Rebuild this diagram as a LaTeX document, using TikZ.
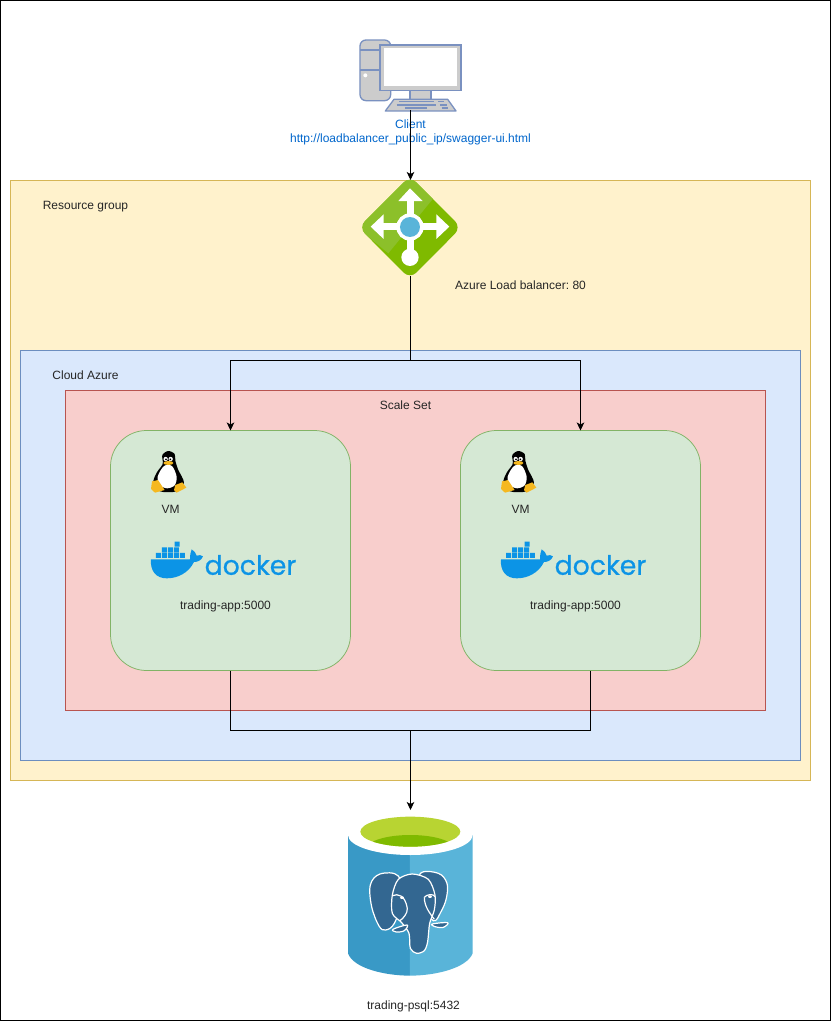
\documentclass[tikz,border=0pt]{standalone}
\usepackage{fontspec}
\setmainfont{Liberation Sans}
\newfontfamily\dockerfont[FakeBold=0.6]{Poppins}
\usetikzlibrary{arrows.meta,calc}
\definecolor{rgfill}{HTML}{FFF2CC}\definecolor{rgline}{HTML}{D6B656}
\definecolor{azfill}{HTML}{DAE8FC}\definecolor{azline}{HTML}{6C8EBF}
\definecolor{ssfill}{HTML}{F8CECC}\definecolor{ssline}{HTML}{B85450}
\definecolor{vmfill}{HTML}{D5E8D4}\definecolor{vmline}{HTML}{82B366}
\definecolor{linkblue}{HTML}{0066CC}
\definecolor{pcline}{HTML}{7A91C0}\definecolor{pcgrey}{HTML}{CCCCCC}
\definecolor{lbgreen}{HTML}{7FBA00}\definecolor{lblight}{HTML}{8CC02A}\definecolor{azblue}{HTML}{59B4D9}
\definecolor{dbdark}{HTML}{3999C6}\definecolor{dbtop}{HTML}{B8D432}\definecolor{pgblue}{HTML}{336791}
\definecolor{dockerblue}{HTML}{0C94E6}\definecolor{tuxorange}{HTML}{F5B81F}
\tikzset{
  x=1pt,y=-1pt,
  region/.style={draw,rectangle,inner sep=0pt,outer sep=0pt,line width=.75pt},
  vmbox/.style={region,fill=vmfill,draw=vmline,minimum width=240pt,minimum height=240pt,rounded corners=36pt},
  lbl/.style={inner sep=0pt,anchor=base,font=\fontsize{12}{14}\selectfont\frenchspacing,text=black!85},
  iconbox/.style={inner sep=0pt,outer sep=0pt,rectangle},
  conn/.style={draw=black,line width=.8pt},
  arrowed/.style={conn,-{Stealth[length=8pt,width=7.5pt,inset=2pt]}},
  zoomed/.style={shift={#1},x=.3333pt,y=-.3333pt},
  vmicons/.pic={
    \begin{scope}[zoomed={(0,0)}]
      % penguin
      \fill[black] plot[smooth cycle] coordinates {(85,33) (67,45) (68,72) (50,98) (40,128) (60,154) (110,154) (132,128) (114,88) (106,62) (104,42)};
      \fill[white] plot[smooth cycle] coordinates {(72,78) (96,78) (110,110) (104,136) (82,145) (60,136) (53,110)};
      \fill[white] (77,57) circle (6.5) (92,57) circle (6.5);
      \fill[black] (78,58) circle (2.8) (91,58) circle (2.8);
      \fill[tuxorange] (85,69) ellipse (15 and 6);
      \fill[tuxorange,line join=round] (33,147) -- (36,124) -- (54,120) -- (74,150) -- (45,158) -- cycle;
      \fill[tuxorange,line join=round] (102,150) -- (106,135) -- (127,127) -- (139,143) -- (110,158) -- cycle;
      % whale
      \fill[dockerblue] (33,358) -- (150,358) .. controls (150,345) and (152,335) .. (155,328)
        .. controls (163,332) and (168,340) .. (170,347) .. controls (177,344) and (184,345) .. (189,349)
        .. controls (184,362) and (172,366) .. (162,366) .. controls (145,400) and (112,415) .. (80,415)
        .. controls (50,415) and (30,395) .. (33,358) -- cycle;
      \fill[dockerblue] \foreach \cx in {48,66,84,102,120} {(\cx,339) rectangle ++(15,15)}
        \foreach \cx in {66,84,102} {(\cx,322) rectangle ++(15,15)}
        (104,305) rectangle ++(15,15);
    \end{scope}
  }
}
\begin{document}
\begin{tikzpicture}
\useasboundingbox (0,0) rectangle (831,1021);
\fill[white] (0,0) rectangle (831,1021);
\node[region,draw=black,fill=white,minimum width=830pt,minimum height=1020pt] (frame) at (415.5,510.5) {};
\node[region,fill=rgfill,draw=rgline,minimum width=800pt,minimum height=600pt] (rg) at (410.5,480.5) {};
\node[region,fill=azfill,draw=azline,minimum width=780pt,minimum height=410pt] (az) at (410.5,555.5) {};
\node[region,fill=ssfill,draw=ssline,minimum width=700pt,minimum height=320pt] (ss) at (415.5,550.5) {};
\node[vmbox] (vm1) at (230.5,550.5) {};
\node[vmbox] (vm2) at (580.5,550.5) {};

% client icon
\node[iconbox,minimum width=100pt,minimum height=70pt] (client) at (410.5,75) {};
\begin{scope}[zoomed={(280,30)}]
  \draw[pcline,fill=pcgrey,line width=1.3pt,rounded corners=6pt] (240,30) rectangle (332,212);
  \draw[pcline,line width=1.3pt] (240,60) -- (332,60) (240,120) -- (332,120);
  \fill[white] (256,136) circle (6);
  \draw[pcline,fill=pcgrey,line width=1.3pt] (390,178) rectangle (453,210);
  \draw[pcline,fill=pcgrey,line width=1.3pt] (300,45) rectangle (543,182);
  \fill[white] (311,55) rectangle (530,169);
  \draw[pcline,fill=pcgrey,line width=1.3pt,line join=round] (342,208) -- (503,208) -- (528,243) -- (316,243) -- cycle;
  \draw[pcline,line width=1.5pt] (358,215) -- (462,215) (475,215) -- (493,215)
     (350,225) -- (468,225) (480,225) -- (500,225) (375,234) -- (442,234) (485,234) -- (505,234);
\end{scope}
\node[lbl,anchor=center,text=linkblue] (clientlabel) at (410.5,132.5) {\begin{tabular}{@{}c@{}}\rule{0pt}{9pt}Client\\[0pt]http://loadbalancer\_public\_ip/swagger-ui.html\end{tabular}};

% load balancer icon
\node[iconbox,minimum width=96pt,minimum height=96pt] (lb) at (410.5,228) {};
\begin{scope}[zoomed={(350,170)}]
  \fill[lbgreen,rounded corners=9pt] (180,18) -- (334,172) -- (180,327) -- (26,172) -- cycle;
  \begin{scope}
    \clip[rounded corners=9pt] (180,18) -- (334,172) -- (180,327) -- (26,172) -- cycle;
    \fill[lblight] (180,15) -- (250,85) -- (115,250) -- (20,172) -- cycle;
  \end{scope}
  \fill[white] (170,90) rectangle (191,262);
  \fill[white] (145,93) -- (180,55) -- (218,93) -- cycle;
  \fill[white] (100,160) rectangle (260,181);
  \fill[white] (62,170) -- (101,133) -- (101,207) -- cycle;
  \fill[white] (298,170) -- (259,133) -- (259,207) -- cycle;
  \fill[white] (180,171) circle (41);
  \fill[azblue] (180,171) circle (30);
  \fill[white] (180,262) circle (26);
\end{scope}

% VM contents
\pic at (140,440) {vmicons};
\pic at (490,440) {vmicons};
\node[lbl,anchor=center,text=dockerblue,font=\dockerfont\fontsize{26.7}{30}\selectfont] (docker1) at (250.5,565) {docker};
\node[lbl,anchor=center,text=dockerblue,font=\dockerfont\fontsize{26.7}{30}\selectfont] (docker2) at (600.5,565) {docker};

% database icon
\node[iconbox,minimum width=125pt,minimum height=166pt] (db) at (410.5,893) {};
\begin{scope}[zoomed={(335,800)}]
  \fill[dbdark] (39,105) -- (39,460) .. controls (55,505) and (150,527) .. (225,527) -- (225,105) -- cycle;
  \fill[azblue] (225,105) -- (225,527) .. controls (300,527) and (395,505) .. (413,460) -- (413,105) -- cycle;
  \fill[white] (226,105) ellipse (187 and 60);
  \begin{scope}
    \clip (226,95) ellipse (150 and 45);
    \fill[dbtop] (70,45) rectangle (380,145);
    \fill[lbgreen] (226,145) ellipse (130 and 40);
  \end{scope}
  \begin{scope}[draw=white,fill=pgblue,line width=1.2pt]
    \filldraw plot[smooth cycle,tension=.6] coordinates {(190,228) (135,222) (106,255) (110,320) (132,378) (152,390) (178,370) (200,300)};
    \filldraw plot[smooth cycle,tension=.6] coordinates {(255,222) (310,220) (336,250) (334,295) (318,335) (295,362) (260,300)};
    \filldraw plot[smooth cycle,tension=.5] coordinates {(172,285) (190,238) (232,222) (280,238) (300,285) (298,330) (284,370) (278,425) (268,452) (245,460) (226,445) (222,400) (200,368) (172,340)};
    \filldraw plot[smooth cycle,tension=.6] coordinates {(174,388) (216,375) (208,392) (184,396)};
    \filldraw plot[smooth cycle,tension=.6] coordinates {(292,372) (338,368) (325,382) (300,380)};
    \draw[fill=none] (172,287) .. controls (190,280) and (210,285) .. (217,325) .. controls (218,340) and (205,355) .. (195,362);
    \draw[fill=none] (268,292) .. controls (275,283) and (295,280) .. (300,290);
    \draw[fill=none] (268,292) .. controls (268,320) and (285,340) .. (298,358);
  \end{scope}
  \fill[white] (201,293) ellipse (6 and 4) (285,290) ellipse (6 and 4);
\end{scope}

% labels
\node[lbl] (rgl) at (85.5,209) {Resource group};
\node[lbl] (lbl1) at (520.5,289) {Azure Load balancer: 80};
\node[lbl] (azl) at (85.5,379) {Cloud Azure};
\node[lbl] (ssl) at (405.5,409) {Scale Set};
\node[lbl] (vml1) at (170.5,513) {VM};
\node[lbl] (vml2) at (520.5,513) {VM};
\node[lbl] (app1) at (225.5,609) {trading-app:5000};
\node[lbl] (app2) at (575.5,609) {trading-app:5000};
\node[lbl] (dbl) at (413.5,1009) {trading-psql:5432};

% connectors
\coordinate (split) at (lb.south |- 0,360.5);
\coordinate (join) at (lb.south |- 0,730.5);
\coordinate (vm2out) at ($(vm2.south)+(10,0)$);
\draw[arrowed] (client.south) -- (lb.north);
\draw[arrowed] (lb.south) -- (split) -| (vm1.north);
\draw[arrowed] (split) -| (vm2.north);
\draw[conn] (vm1.south) |- (join);
\draw[conn] (vm2out) |- (join);
\draw[arrowed] (join) -- (db.north);
\end{tikzpicture}
\end{document}
